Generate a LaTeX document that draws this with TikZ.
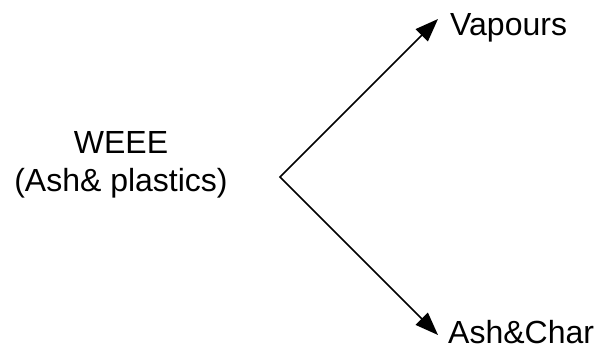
\documentclass[tikz,border=0pt]{standalone}
\usepackage{fontspec}
\setmainfont{Liberation Sans}
\usetikzlibrary{arrows.meta}
\begin{document}
\begin{tikzpicture}[x=1pt,y=-1pt,
  lbl/.style={font=\fontsize{32}{38}\selectfont, inner sep=0pt},
  flow/.style={line width=1.7pt, line join=miter,
    {Triangle[length=23pt,width=17pt]}-{Triangle[length=23pt,width=17pt]}}]
  \useasboundingbox (0,0) rectangle (595,349);
  % feed material
  \node[lbl, anchor=base] (weee) at (121,153) {WEEE};
  \node[lbl, anchor=base] (feed) at (121,191) {(Ash\& plastics)};
  % products
  \node[lbl, anchor=base west] (vap) at (450,35) {Vapours};
  \node[lbl, anchor=base west, text depth=0pt] (ash) at (448,343) {Ash\&Char};
  % split point and arrow tips
  \coordinate (split) at (280,177);
  \coordinate (tipv) at (438,19);
  \coordinate (tipa) at (438,335);
  \draw[flow] (tipv) -- (split) -- (tipa);
\end{tikzpicture}
\end{document}
